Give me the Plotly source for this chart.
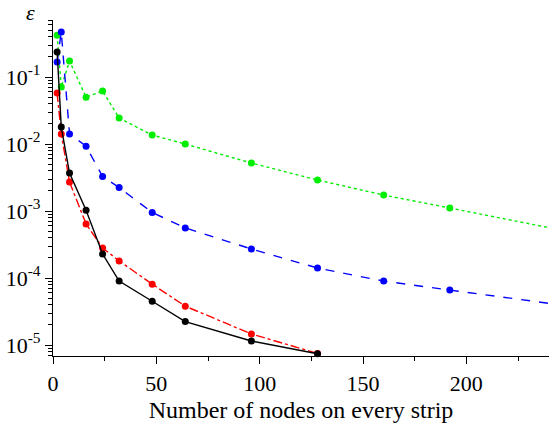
import plotly.graph_objects as go

x_nodes = [2, 4, 8, 16, 24, 32, 48, 64, 96, 128, 160, 192]
green_err = [0.42, 0.071, 0.173, 0.050, 0.062, 0.0244, 0.0136, 0.0100, 0.0052, 0.0029, 0.00173, 0.00111]
blue_err = [0.167, 0.47, 0.0141, 0.0093, 0.00327, 0.00224, 9.5e-4, 5.6e-4, 2.71e-4, 1.41e-4, 9.0e-5, 6.6e-5]
x_short = [2, 4, 8, 16, 24, 32, 48, 64, 96, 128]
red_err = [0.0577, 0.0141, 0.00271, 6.4e-4, 2.81e-4, 1.80e-4, 8.1e-5, 3.8e-5, 1.46e-5, 7.5e-6]
black_err = [0.236, 0.0179, 0.00369, 0.00103, 2.28e-4, 9.0e-5, 4.5e-5, 2.24e-5, 1.15e-5, 7.4e-6]
# line continuation beyond last marker (to right edge)
x_tail = [192, 256]
green_tail = [0.00111, 4.5e-4]
blue_tail = [6.6e-5, 3.6e-5]

xtick_vals = [0, 50, 100, 150, 200]
ytick_vals = [1e-1, 1e-2, 1e-3, 1e-4, 1e-5]
ytick_text = ["10<sup>-1</sup>", "10<sup>-2</sup>", "10<sup>-3</sup>", "10<sup>-4</sup>", "10<sup>-5</sup>"]

fig = go.Figure()

def add(xs, ys, color, dash, markers=True):
    fig.add_trace(go.Scatter(
        x=xs, y=ys, mode="lines+markers" if markers else "lines",
        line=dict(color=color, width=1.4, dash=dash),
        marker=dict(color=color, size=7),
        showlegend=False, cliponaxis=False if markers else True,
    ))

add(x_tail, green_tail, "#00ee00", "dot", markers=False)
add(x_tail, blue_tail, "#0000ff", "dash", markers=False)
add(x_nodes, green_err, "#00ee00", "dot")
add(x_nodes, blue_err, "#0000ff", "dash")
add(x_short, red_err, "#ff0000", "dashdot")
add(x_short, black_err, "#000000", "solid")

font = "Liberation Serif"
fig.update_layout(
    width=549, height=425,
    margin=dict(l=53, r=0, t=20, b=69),
    paper_bgcolor="white", plot_bgcolor="white",
    font=dict(family=font, size=22, color="black"),
    xaxis=dict(
        range=[0, 240], showgrid=False, zeroline=False,
        showline=True, linecolor="black", linewidth=1.2,
        ticks="outside", ticklen=7, tickwidth=1, tickcolor="black",
        tickvals=xtick_vals,
        minor=dict(ticks="outside", ticklen=4, tickcolor="black", tickvals=[25, 75, 125, 175, 225]),
        title=dict(text="Number of nodes on every strip", font=dict(size=24, family=font), standoff=6),
        tickfont=dict(size=22, family=font),
    ),
    yaxis=dict(
        type="log", range=[-5.164, -0.149], showgrid=False, zeroline=False,
        showline=True, linecolor="black", linewidth=1.2,
        ticks="outside", ticklen=7, tickwidth=1, tickcolor="black",
        tickvals=ytick_vals, ticktext=ytick_text,
        minor=dict(ticks="outside", ticklen=4, tickcolor="black", dtick="D1"),
        tickfont=dict(size=22, family=font),
    ),
    annotations=[dict(
        text="<i>ε</i>", x=-0.046, y=1.021, xref="paper", yref="paper",
        xanchor="center", yanchor="middle",
        showarrow=False, font=dict(size=22, family=font),
    )],
)
fig.write_html("out.html")
